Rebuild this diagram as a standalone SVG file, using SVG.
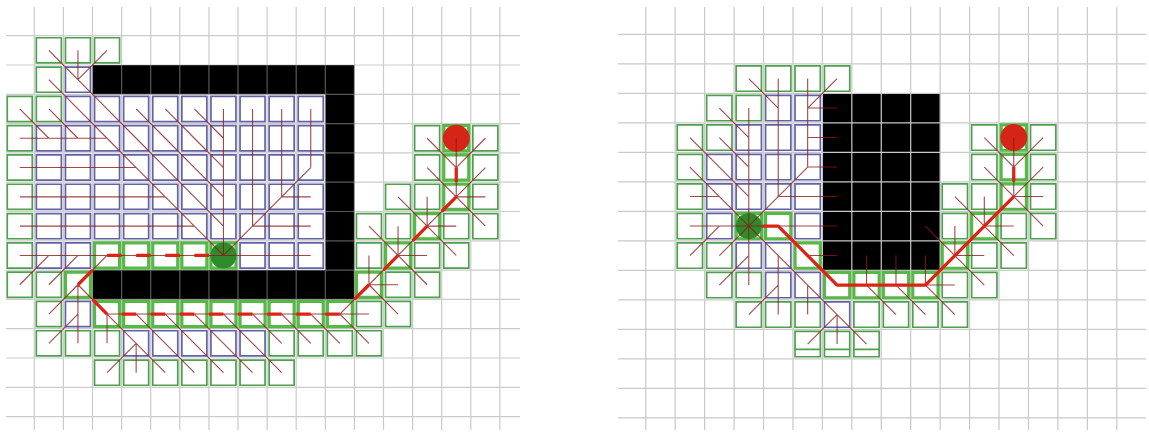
<svg xmlns="http://www.w3.org/2000/svg" width="1149" height="432" viewBox="0 0 1149 432">
<style>
.ns{vector-effect:non-scaling-stroke}
.gl{fill:none;stroke:#a0a0a0;stroke-opacity:.55;stroke-width:1.2;vector-effect:non-scaling-stroke}
.gr{fill:none;stroke:#c9c9c9;stroke-width:1.2;vector-effect:non-scaling-stroke}
.o{fill:none;stroke:#2f8f2f;stroke-width:1.7;stroke-opacity:.85;vector-effect:non-scaling-stroke}
.c{fill:none;stroke:#3b3b8f;stroke-width:1.7;stroke-opacity:.8;vector-effect:non-scaling-stroke}
.p{fill:none;stroke:#57b847;stroke-width:3.2;vector-effect:non-scaling-stroke}
.l{fill:none;stroke:#8b1a1a;stroke-width:1.1;stroke-opacity:.8;vector-effect:non-scaling-stroke}
.t{fill:none;stroke:#dc2314;stroke-width:3.3;stroke-linejoin:round;vector-effect:non-scaling-stroke}
.wall{fill:#000}
.start{fill:#2e8a2a}
.goal{fill:#d42517}
</style>

<g id="left-panel">
  <g id="left-walls" transform="translate(5.2 6.4) scale(29.1 29.3)">
    <path class="wall" d="M3 2h9v1h-9zM11 2h1v8h-1zM3 9h9v1h-9z"/>
  </g>
  <g id="left-grid" transform="translate(5.2 6.4) scale(29.1 29.3)">
    <path class="gl" d="M1 .02V14.46M2 .02V14.46M3 .02V14.46M4 .02V14.46M5 .02V14.46M6 .02V14.46M7 .02V14.46M8 .02V14.46M9 .02V14.46M10 .02V14.46M11 .02V14.46M12 .02V14.46M13 .02V14.46M14 .02V14.46M15 .02V14.46M16 .02V14.46M17 .02V14.46M.03 1H17.69M.03 2H17.69M.03 3H17.69M.03 4H17.69M.03 5H17.69M.03 6H17.69M.03 7H17.69M.03 8H17.69M.03 9H17.69M.03 10H17.69M.03 11H17.69M.03 12H17.69M.03 13H17.69M.03 14H17.69"/>
  </g>
  <g id="left-cells" transform="translate(5.2 6.4) scale(29.1 29.3)">
    <path id="left-open" class="o" d="M1.07 1.07h.86v.86h-.86zM2.07 1.07h.86v.86h-.86zM3.07 1.07h.86v.86h-.86zM1.07 2.07h.86v.86h-.86zM.07 3.07h.86v.86h-.86zM1.07 3.07h.86v.86h-.86zM.07 4.07h.86v.86h-.86zM.07 5.07h.86v.86h-.86zM.07 6.07h.86v.86h-.86zM.07 7.07h.86v.86h-.86zM.07 8.07h.86v.86h-.86zM.07 9.07h.86v.86h-.86zM1.07 9.07h.86v.86h-.86zM1.07 10.07h.86v.86h-.86zM1.07 11.07h.86v.86h-.86zM2.07 11.07h.86v.86h-.86zM3.07 11.07h.86v.86h-.86zM9.07 11.07h.86v.86h-.86zM10.07 11.07h.86v.86h-.86zM11.07 11.07h.86v.86h-.86zM12.07 11.07h.86v.86h-.86zM3.07 12.07h.86v.86h-.86zM4.07 12.07h.86v.86h-.86zM5.07 12.07h.86v.86h-.86zM6.07 12.07h.86v.86h-.86zM7.07 12.07h.86v.86h-.86zM8.07 12.07h.86v.86h-.86zM9.07 12.07h.86v.86h-.86zM12.07 10.07h.86v.86h-.86zM13.07 10.07h.86v.86h-.86zM13.07 9.07h.86v.86h-.86zM14.07 9.07h.86v.86h-.86zM12.07 8.07h.86v.86h-.86zM14.07 8.07h.86v.86h-.86zM15.07 8.07h.86v.86h-.86zM12.07 7.07h.86v.86h-.86zM13.07 7.07h.86v.86h-.86zM15.07 7.07h.86v.86h-.86zM16.07 7.07h.86v.86h-.86zM13.07 6.07h.86v.86h-.86zM14.07 6.07h.86v.86h-.86zM16.07 6.07h.86v.86h-.86zM14.07 5.07h.86v.86h-.86zM16.07 5.07h.86v.86h-.86zM14.07 4.07h.86v.86h-.86zM16.07 4.07h.86v.86h-.86z"/>
    <path id="left-closed" class="c" d="M2.07 2.07h.86v.86h-.86zM2.07 3.07h.86v.86h-.86zM3.07 3.07h.86v.86h-.86zM4.07 3.07h.86v.86h-.86zM5.07 3.07h.86v.86h-.86zM6.07 3.07h.86v.86h-.86zM7.07 3.07h.86v.86h-.86zM8.07 3.07h.86v.86h-.86zM9.07 3.07h.86v.86h-.86zM10.07 3.07h.86v.86h-.86zM1.07 4.07h.86v.86h-.86zM2.07 4.07h.86v.86h-.86zM3.07 4.07h.86v.86h-.86zM4.07 4.07h.86v.86h-.86zM5.07 4.07h.86v.86h-.86zM6.07 4.07h.86v.86h-.86zM7.07 4.07h.86v.86h-.86zM8.07 4.07h.86v.86h-.86zM9.07 4.07h.86v.86h-.86zM10.07 4.07h.86v.86h-.86zM1.07 5.07h.86v.86h-.86zM2.07 5.07h.86v.86h-.86zM3.07 5.07h.86v.86h-.86zM4.07 5.07h.86v.86h-.86zM5.07 5.07h.86v.86h-.86zM6.07 5.07h.86v.86h-.86zM7.07 5.07h.86v.86h-.86zM8.07 5.07h.86v.86h-.86zM9.07 5.07h.86v.86h-.86zM10.07 5.07h.86v.86h-.86zM1.07 6.07h.86v.86h-.86zM2.07 6.07h.86v.86h-.86zM3.07 6.07h.86v.86h-.86zM4.07 6.07h.86v.86h-.86zM5.07 6.07h.86v.86h-.86zM6.07 6.07h.86v.86h-.86zM7.07 6.07h.86v.86h-.86zM8.07 6.07h.86v.86h-.86zM9.07 6.07h.86v.86h-.86zM10.07 6.07h.86v.86h-.86zM1.07 7.07h.86v.86h-.86zM2.07 7.07h.86v.86h-.86zM3.07 7.07h.86v.86h-.86zM4.07 7.07h.86v.86h-.86zM5.07 7.07h.86v.86h-.86zM6.07 7.07h.86v.86h-.86zM7.07 7.07h.86v.86h-.86zM8.07 7.07h.86v.86h-.86zM9.07 7.07h.86v.86h-.86zM10.07 7.07h.86v.86h-.86zM1.07 8.07h.86v.86h-.86zM2.07 8.07h.86v.86h-.86zM8.07 8.07h.86v.86h-.86zM9.07 8.07h.86v.86h-.86zM10.07 8.07h.86v.86h-.86zM2.07 10.07h.86v.86h-.86zM4.07 11.07h.86v.86h-.86zM5.07 11.07h.86v.86h-.86zM6.07 11.07h.86v.86h-.86zM7.07 11.07h.86v.86h-.86zM8.07 11.07h.86v.86h-.86z"/>
    <path id="left-pathcells" class="p" d="M3.07 8.07h.86v.86h-.86zM4.07 8.07h.86v.86h-.86zM5.07 8.07h.86v.86h-.86zM6.07 8.07h.86v.86h-.86zM7.07 8.07h.86v.86h-.86zM2.07 9.07h.86v.86h-.86zM3.07 10.07h.86v.86h-.86zM4.07 10.07h.86v.86h-.86zM5.07 10.07h.86v.86h-.86zM6.07 10.07h.86v.86h-.86zM7.07 10.07h.86v.86h-.86zM8.07 10.07h.86v.86h-.86zM9.07 10.07h.86v.86h-.86zM10.07 10.07h.86v.86h-.86zM11.07 10.07h.86v.86h-.86zM12.07 9.07h.86v.86h-.86zM13.07 8.07h.86v.86h-.86zM14.07 7.07h.86v.86h-.86zM15.07 6.07h.86v.86h-.86zM15.07 5.07h.86v.86h-.86zM15.07 4.07h.86v.86h-.86z"/>
  </g>
  <g id="left-start"><circle class="start" cx="223.45" cy="255.45" r="13"/></g>
  <g id="left-goal"><circle class="goal" cx="456.25" cy="138.25" r="13.5"/></g>
  <g id="left-connectors" transform="translate(5.2 6.4) scale(29.1 29.3) translate(.5 .5)">
    <path class="l" d="M1 1L2 2M2 1L2 2M3 1L2 2M1 2L2 3M2 2L3 3M0 3L1 4M1 3L2 4M2 3L3 4M3 3L4 4M4 3L5 4M5 3L6 4M6 3L7 4M7 3L7 4M8 3L8 4M9 3L9 4M10 3L10 4M0 4L3 4M3 4L4 5M4 4L5 5M5 4L6 5M6 4L7 5M7 4L7 5M8 4L8 5M9 4L9 5M10 4L10 5M0 5L4 5M4 5L5 6M5 5L6 6M6 5L7 6M7 5L7 6M8 5L8 6M9 5L9 6M10 5L9 6M0 6L5 6M5 6L6 7M6 6L7 7M7 6L7 7M8 6L8 7M9 6L8 7M10 6L9 6M0 7L6 7M6 7L7 8M7 7L7 8M8 7L7 8M10 7L8 7M0 8L7 8M10 8L7 8M0 9L1 8M1 9L2 8M2 9L3 8M1 10L2 9M2 10L2 9M3 10L2 9M11 10L3 10M1 11L2 10M2 11L2 10M3 11L3 10M4 11L3 10M5 11L4 10M6 11L5 10M7 11L6 10M8 11L7 10M9 11L8 10M10 11L9 10M11 11L10 10M12 11L11 10M3 12L4 11M4 12L4 11M5 12L4 11M6 12L5 11M7 12L6 11M8 12L7 11M9 12L8 11M12 7L13 8M13 7L13 8M14 7L13 8M15 7L14 7M16 7L15 6M15 8L14 7M12 8L12 9M14 8L13 8M13 8L12 9M12 9L11 10M13 9L12 9M14 9L13 8M12 10L11 10M13 10L12 9M13 6L14 7M14 6L14 7M15 6L14 7M16 6L15 6M14 5L15 6M15 5L15 6M16 5L15 6M14 4L15 5M15 4L15 5M16 4L15 5"/>
    <path id="left-path" class="t" d="M15 5L15 5.5M15 6L14.5 6.5M14 7L13.5 7.5M13 8L12.5 8.5M12 9L11.5 9.5M11 10L10.5 10M10 10L9.5 10M9 10L8.5 10M8 10L7.5 10M7 10L6.5 10M6 10L5.5 10M5 10L4.5 10M4 10L3.5 10M3 10L2.5 9.5M2 9L2.5 8.5M3 8L3.5 8M4 8L4.5 8M5 8L5.5 8M6 8L6.5 8"/>
  </g>
</g>

<g id="right-panel">
  <g id="right-walls" transform="translate(616.3 4.8) scale(29.44 29.5)">
    <path class="wall" d="M7 3h4v6h-4z"/>
  </g>
  <g id="right-grid" transform="translate(616.3 4.8) scale(29.44 29.5)">
    <path class="gr" d="M1 .075V14.41M2 .075V14.41M3 .075V14.41M4 .075V14.41M5 .075V14.41M6 .075V14.41M7 .075V14.41M8 .075V14.41M9 .075V14.41M10 .075V14.41M11 .075V14.41M12 .075V14.41M13 .075V14.41M14 .075V14.41M15 .075V14.41M16 .075V14.41M17 .075V14.41M.06 1H17.99M.06 2H17.99M.06 3H17.99M.06 4H17.99M.06 5H17.99M.06 6H17.99M.06 7H17.99M.06 8H17.99M.06 9H17.99M.06 10H17.99M.06 11H17.99M.06 12H17.99M.06 13H17.99M.06 14H17.99"/>
  </g>
  <g id="right-cells" transform="translate(616.3 4.8) scale(29.44 29.5)">
    <path id="right-open" class="o" d="M4.07 2.07h.86v.86h-.86zM5.07 2.07h.86v.86h-.86zM6.07 2.07h.86v.86h-.86zM7.07 2.07h.86v.86h-.86zM3.07 3.07h.86v.86h-.86zM4.07 3.07h.86v.86h-.86zM2.07 4.07h.86v.86h-.86zM3.07 4.07h.86v.86h-.86zM2.07 5.07h.86v.86h-.86zM2.07 6.07h.86v.86h-.86zM2.07 7.07h.86v.86h-.86zM2.07 8.07h.86v.86h-.86zM3.07 8.07h.86v.86h-.86zM3.07 9.07h.86v.86h-.86zM4.07 9.07h.86v.86h-.86zM4.07 10.07h.86v.86h-.86zM5.07 10.07h.86v.86h-.86zM6.07 10.07h.86v.86h-.86zM8.07 10.07h.86v.86h-.86zM9.07 10.07h.86v.86h-.86zM10.07 10.07h.86v.86h-.86zM11.07 10.07h.86v.86h-.86zM6.07 11.07h.86v.86h-.86zM7.07 11.07h.86v.86h-.86zM8.07 11.07h.86v.86h-.86zM6.07 11.68h.86M7.07 11.68h.86M8.07 11.68h.86M11.07 9.07h.86v.86h-.86zM12.07 9.07h.86v.86h-.86zM12.07 8.07h.86v.86h-.86zM13.07 8.07h.86v.86h-.86zM11.07 7.07h.86v.86h-.86zM13.07 7.07h.86v.86h-.86zM14.07 7.07h.86v.86h-.86zM11.07 6.07h.86v.86h-.86zM12.07 6.07h.86v.86h-.86zM14.07 6.07h.86v.86h-.86zM12.07 5.07h.86v.86h-.86zM14.07 5.07h.86v.86h-.86zM12.07 4.07h.86v.86h-.86zM14.07 4.07h.86v.86h-.86z"/>
    <path id="right-closed" class="c" d="M5.07 3.07h.86v.86h-.86zM6.07 3.07h.86v.86h-.86zM4.07 4.07h.86v.86h-.86zM5.07 4.07h.86v.86h-.86zM6.07 4.07h.86v.86h-.86zM3.07 5.07h.86v.86h-.86zM4.07 5.07h.86v.86h-.86zM5.07 5.07h.86v.86h-.86zM6.07 5.07h.86v.86h-.86zM3.07 6.07h.86v.86h-.86zM4.07 6.07h.86v.86h-.86zM5.07 6.07h.86v.86h-.86zM6.07 6.07h.86v.86h-.86zM3.07 7.07h.86v.86h-.86zM6.07 7.07h.86v.86h-.86zM4.07 8.07h.86v.86h-.86zM5.07 8.07h.86v.86h-.86zM5.07 9.07h.86v.86h-.86zM6.07 9.07h.86v.86h-.86zM7.07 10.07h.86v.86h-.86z"/>
    <path id="right-pathcells" class="p" d="M4.07 7.07h.86v.86h-.86zM5.07 7.07h.86v.86h-.86zM6.07 8.07h.86v.86h-.86zM7.07 9.07h.86v.86h-.86zM8.07 9.07h.86v.86h-.86zM9.07 9.07h.86v.86h-.86zM10.07 9.07h.86v.86h-.86zM11.07 8.07h.86v.86h-.86zM12.07 7.07h.86v.86h-.86zM13.07 6.07h.86v.86h-.86zM13.07 5.07h.86v.86h-.86zM13.07 4.07h.86v.86h-.86z"/>
  </g>
  <g id="right-start"><circle class="start" cx="748.78" cy="226.05" r="13"/></g>
  <g id="right-goal"><circle class="goal" cx="1013.74" cy="137.55" r="13.5"/></g>
  <g id="right-connectors" transform="translate(616.3 4.8) scale(29.44 29.5) translate(.5 .5)">
    <path class="l" d="M4 2L5 3M5 2L5 3M6 2L6 3M7 2L6 3M3 3L4 4M4 3L4 4M5 3L5 4M6 3L6 4M7 3L6 3M2 4L3 5M3 4L4 5M4 4L4 5M5 4L5 5M6 4L6 5M7 4L6 4M2 5L3 6M3 5L4 6M4 5L4 6M5 5L5 6M6 5L5 6M7 5L6 5M2 6L3 6M3 6L4 7M4 6L4 7M5 6L4 7M6 6L5 6M7 6L6 6M2 7L7 7M2 8L3 7M3 8L4 7M4 8L4 7M5 8L4 7M6 8L5 7M7 8L6 8M8 8L8 9M9 8L9 9M10 8L10 9M3 9L4 8M4 9L4 8M5 9L5 8M6 9L5 8M7 9L6 8M11 9L7 9M12 9L11 8M4 10L5 9M5 10L5 9M6 10L6 9M7 10L6 9M9 10L8 9M10 10L9 9M11 10L10 9M6 11L7 10M7 11L7 10M8 11L7 10M10 7L11 8M11 7L11 8M11 8L10 9M12 8L11 8M12 7L11 8M13 7L12 7M13 8L12 7M14 7L13 6M12 6L12 7M11 6L12 7M13 6L12 7M14 6L13 6M12 5L13 6M14 5L13 6M13 5L13 6M12 4L13 5M14 4L13 5M13 4L13 5"/>
    <path id="right-path" class="t" d="M4.45 7L5 7L6 8L7 9L10 9L11 8L12 7L13 6M13 5L13 5.5"/>
  </g>
</g>
</svg>
